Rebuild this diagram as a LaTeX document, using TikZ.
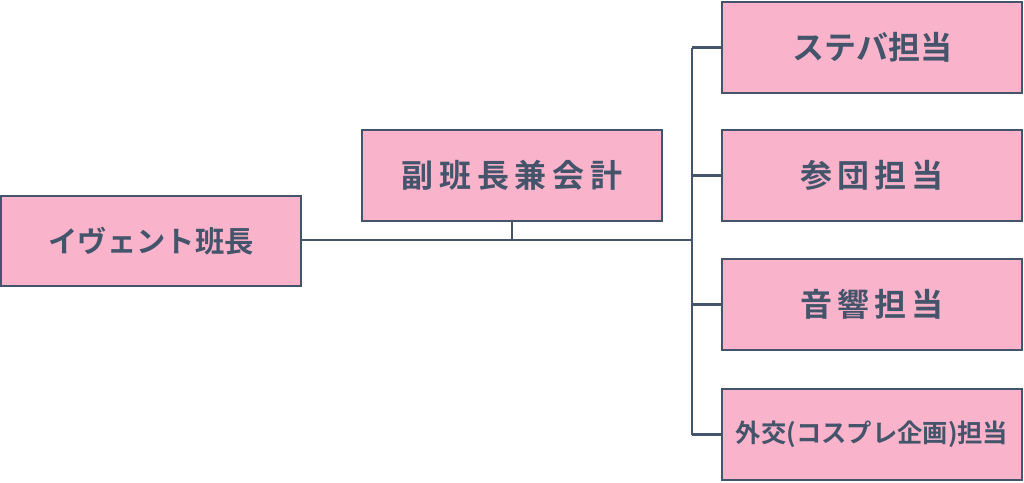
\documentclass[tikz,border=0pt]{standalone}
\usepackage{fontspec}
\newfontfamily\jpfont{Noto Sans CJK JP Bold}
\definecolor{boxpink}{RGB}{249,180,204}
\definecolor{slateline}{RGB}{68,84,106}
\tikzset{
  rolebox/.style={draw=slateline,fill=boxpink,line width=1.6pt,
    minimum width=225pt,minimum height=68pt,inner sep=0pt,
    text=slateline,font=\jpfont\fontsize{24}{28}\selectfont},
  link/.style={draw=slateline,line width=1.6pt}
}
\begin{document}
\begin{tikzpicture}[x=0.75pt,y=-0.75pt]
\useasboundingbox (0,0) rectangle (1024,482);
\node[rolebox,font=\jpfont\fontsize{22}{26}\selectfont] (leader) at (151,241) {イヴェント班長};
\node[rolebox] (vice) at (512,175.5) {\addfontfeature{LetterSpace=18}副班長兼会計};
\node[rolebox] (staff) at (872,47.5) {ステバ担当};
\node[rolebox] (troupe) at (872,175.5) {\addfontfeature{LetterSpace=15}参団担当};
\node[rolebox] (sound) at (872,304.5) {\addfontfeature{LetterSpace=15}音響担当};
\node[rolebox,font=\jpfont\fontsize{19}{22}\selectfont] (cosplay) at (872,434.5) {外交(コスプレ企画)担当};
\coordinate (J) at (692,240);
\coordinate (top) at (692,47.5);
\coordinate (bot) at (692,434.5);
\draw [link] (leader.east |- J) -- (J);
\draw [link] (vice.south) -- (vice.south |- J);
\draw [link] (top) -- (bot);
\foreach \r in {staff,troupe,sound,cosplay}
	\draw [link] (\r.west) -- (J |- \r.west);
\end{tikzpicture}
\end{document}
